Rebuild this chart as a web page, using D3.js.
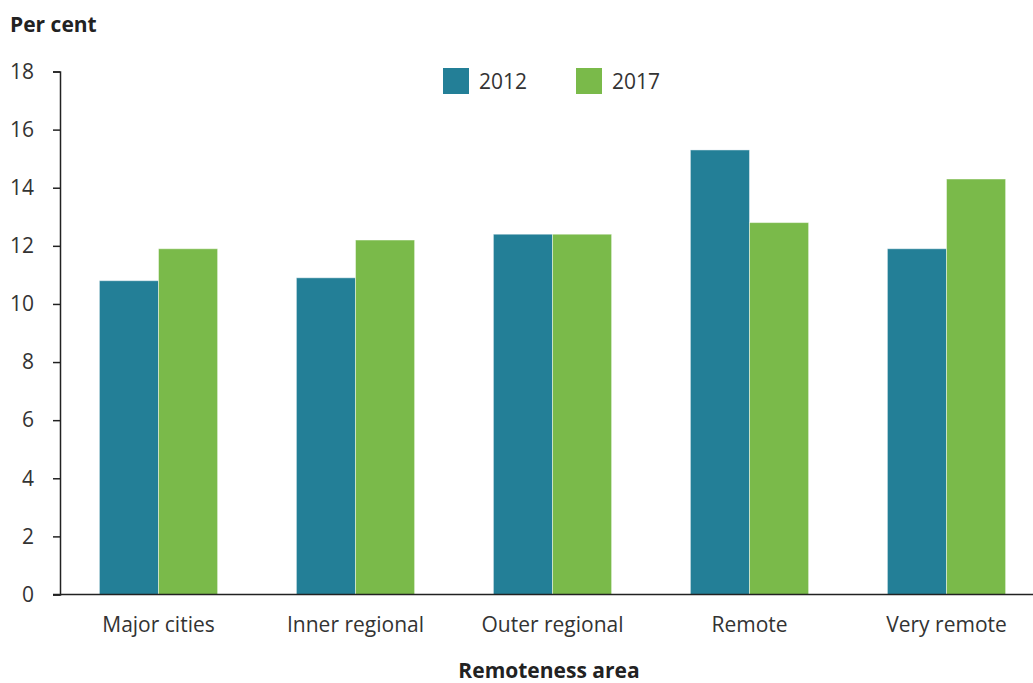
<!DOCTYPE html>
<html>
<head>
<meta charset="utf-8">
<script src="https://cdn.jsdelivr.net/npm/d3@7"></script>
<style>
  body { margin: 0; background: #fff; }
  svg { display: block; font-family: "Open Sans", sans-serif; }
</style>
</head>
<body>
<svg id="chart" width="1033" height="683"></svg>
<script>
// Share of people by remoteness area, 2012 vs 2017
const categories = ["Major cities", "Inner regional", "Outer regional", "Remote", "Very remote"];
const seriesNames = ["2012", "2017"];
const values2012 = [10.8, 10.9, 12.4, 15.3, 11.9];
const values2017 = [11.9, 12.2, 12.4, 12.8, 14.3];
const yTicks = [0, 2, 4, 6, 8, 10, 12, 14, 16, 18];
const colors = ["#237f97", "#7aba4a"];

const svg = d3.select("#chart");
const textColor = "#333";
const fontSize = 21;

const x0 = d3.scaleBand().domain(categories).range([60, 1045]).paddingInner(0.4).paddingOuter(0.2);
const x1 = d3.scaleBand().domain(seriesNames).range([0, x0.bandwidth()]);
const y = d3.scaleLinear().domain([0, 18]).range([594.5, 71.5]);

// y axis
const yAxis = svg.append("g").attr("transform", "translate(60,0)")
  .call(d3.axisLeft(y).tickValues(yTicks).tickSize(7).tickPadding(19));
yAxis.select(".domain").attr("stroke", "#222").attr("stroke-width", 1.5);
yAxis.selectAll(".tick line").attr("stroke", "#222").attr("stroke-width", 1.5);
yAxis.selectAll("text").attr("font-size", fontSize).attr("fill", textColor)
  .attr("font-family", "Open Sans, sans-serif");

// bars
const data = categories.map((c, i) => ({ cat: c, vals: [values2012[i], values2017[i]] }));
const groups = svg.append("g").selectAll("g").data(data).join("g")
  .attr("transform", d => `translate(${x0(d.cat)},0)`);
groups.selectAll("rect")
  .data(d => d.vals.map((v, j) => ({ key: seriesNames[j], v, j })))
  .join("rect")
  .attr("x", d => x1(d.key))
  .attr("width", x1.bandwidth())
  .attr("y", d => y(d.v))
  .attr("height", d => y(0) - y(d.v))
  .attr("fill", d => colors[d.j])
  .attr("stroke", "rgba(255,255,255,0.45)")
  .attr("stroke-width", 1);

// x axis
const xAxis = svg.append("g").attr("transform", `translate(0,${y(0)})`)
  .call(d3.axisBottom(x0).tickSize(0).tickPadding(23));
xAxis.select(".domain").attr("d", "M53,0H1033").attr("stroke", "#222").attr("stroke-width", 1.5);
xAxis.selectAll("text").attr("font-size", fontSize).attr("fill", textColor)
  .attr("font-family", "Open Sans, sans-serif");

// titles
svg.append("text").attr("x", 10).attr("y", 32).attr("font-size", fontSize).attr("font-weight", "bold")
  .attr("fill", "#222").text("Per cent");
svg.append("text").attr("x", 549).attr("y", 678).attr("text-anchor", "middle").attr("font-size", fontSize)
  .attr("font-weight", "bold").attr("fill", "#222").text("Remoteness area");

// legend
const legendX = [443, 576];
const legend = svg.append("g").selectAll("g").data(seriesNames).join("g")
  .attr("transform", (d, i) => `translate(${legendX[i]},68)`);
legend.append("rect").attr("width", 26).attr("height", 26).attr("fill", (d, i) => colors[i]);
legend.append("text").attr("x", 36).attr("y", 21).attr("font-size", fontSize).attr("fill", textColor).text(d => d);
</script>
</body>
</html>
